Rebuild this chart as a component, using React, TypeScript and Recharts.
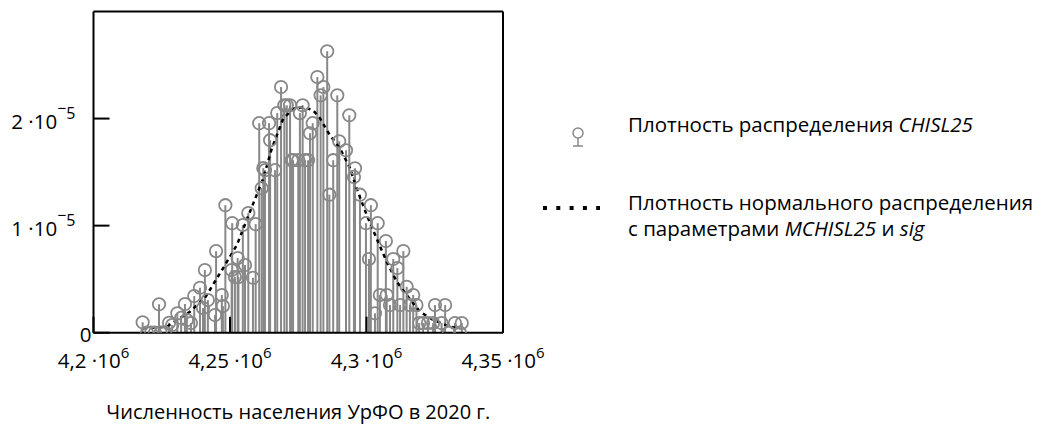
import React from 'react';
import { ComposedChart, Scatter, Line, XAxis, YAxis, ErrorBar } from 'recharts';

// Sample density points (population, density)
const populationPoints = [
  4218000, 4219600, 4221100, 4222500, 4224000, 4224600, 4226200, 4227700, 4228800, 4230700,
  4232100, 4233500, 4234200, 4235700, 4236900, 4239000, 4240100, 4240800, 4241900, 4244500,
  4244900, 4247000, 4247400, 4248300, 4250600, 4250800, 4251800, 4252800, 4253100, 4254700,
  4255500, 4256700, 4258400, 4259400, 4260700, 4261600, 4262200, 4262800, 4264300, 4264700,
  4266500, 4267300, 4268700, 4269900, 4270800, 4272000, 4272600, 4273100, 4275000, 4275600,
  4276600, 4277500, 4278600, 4279300, 4280300, 4282000, 4283200, 4284200, 4285600, 4286400,
  4287800, 4289300, 4290000, 4292500, 4293700, 4295400, 4295800, 4297600, 4299800, 4300900,
  4301600, 4303100, 4304100, 4304900, 4307100, 4307400, 4308600, 4309800, 4311300, 4312300,
  4313500, 4314700, 4315900, 4317100, 4318300, 4319300, 4320700, 4322500, 4324400, 4325100,
  4327500, 4328800, 4330200, 4332400, 4334200, 4334900,
];
const densityValues = [
  0.097e-5, 0, 0, 0, 0.265e-5, 0, 0, 0.093e-5, 0.072e-5, 0.181e-5,
  0.138e-5, 0.268e-5, 0.118e-5, 0.09e-5, 0.342e-5, 0.42e-5, 0.23e-5, 0.585e-5, 0.305e-5, 0.165e-5,
  0.762e-5, 0.352e-5, 0.249e-5, 1.191e-5, 0.585e-5, 1.023e-5, 0.52e-5, 0.697e-5, 0.52e-5, 1.005e-5,
  0.632e-5, 1.117e-5, 0.513e-5, 1.014e-5, 1.957e-5, 1.35e-5, 1.537e-5, 1.518e-5, 1.957e-5, 1.798e-5,
  1.518e-5, 2.051e-5, 2.295e-5, 2.124e-5, 2.124e-5, 2.124e-5, 1.611e-5, 1.611e-5, 1.611e-5, 2.051e-5,
  2.124e-5, 1.611e-5, 1.611e-5, 1.863e-5, 1.957e-5, 2.388e-5, 2.217e-5, 2.295e-5, 2.628e-5, 1.289e-5,
  1.611e-5, 2.217e-5, 1.788e-5, 1.704e-5, 2.031e-5, 1.455e-5, 1.536e-5, 1.289e-5, 1.023e-5, 0.688e-5,
  1.191e-5, 0.181e-5, 1.023e-5, 0.352e-5, 0.856e-5, 0.352e-5, 0.258e-5, 0.688e-5, 0.604e-5, 0.258e-5,
  0.762e-5, 0.429e-5, 0.258e-5, 0.352e-5, 0.258e-5, 0.09e-5, 0.09e-5, 0.09e-5, 0.09e-5, 0.258e-5,
  0.09e-5, 0.258e-5, 0, 0.09e-5, 0, 0.09e-5,
];

// Normal density curve (population, density)
const normalX = [
  4218200, 4226800, 4235300, 4240800, 4247500, 4252500, 4257300, 4262200, 4265300, 4269500,
  4273200, 4276900, 4280500, 4283000, 4286600, 4290300, 4294000, 4296400, 4300100, 4303700,
  4307400, 4311100, 4314700, 4319600, 4324500, 4330600, 4334200,
];
const normalY = [
  0.041e-5, 0.056e-5, 0.196e-5, 0.324e-5, 0.604e-5, 0.818e-5, 1.129e-5, 1.443e-5, 1.72e-5, 2.0e-5,
  2.093e-5, 2.108e-5, 2.077e-5, 2.0e-5, 1.844e-5, 1.72e-5, 1.534e-5, 1.347e-5, 1.098e-5, 0.881e-5,
  0.662e-5, 0.476e-5, 0.352e-5, 0.196e-5, 0.118e-5, 0.056e-5, 0.041e-5,
];

const xTicks = [4.2e6, 4.25e6, 4.3e6, 4.35e6];
const xTickMantissas = ['4,2', '4,25', '4,3', '4,35'];
const xTickExponent = '6';
const yTicks = [0, 1e-5, 2e-5];
const yTickMantissas = ['0', '1', '2'];
const yTickExponentSign = '−';
const yTickExponentDigit = '5';

const xTitle = 'Численность населения УрФО в 2020 г.';
const legendLabel1 = 'Плотность распределения ';
const legendItalic1 = 'CHISL25';
const legendLabel2 = 'Плотность нормального распределения';
const legendLabel3a = 'с параметрами ';
const legendItalic3a = 'MCHISL25';
const legendLabel3b = ' и ';
const legendItalic3b = 'sig';

const FONT = '"Open Sans", sans-serif';
const GRAY = '#888888';

const stemData = populationPoints.map((x, i) => ({ x, y: densityValues[i], stem: [densityValues[i], 0] }));
const normalData = normalX.map((x, i) => ({ x, y: normalY[i] }));

const XTick = (props: any) => {
  const { x, y, payload } = props;
  const idx = xTicks.indexOf(payload.value);
  const mant = idx >= 0 ? xTickMantissas[idx] : String(payload.value);
  return (
    <text x={x} y={y + 35.5} textAnchor="middle" fontFamily={FONT} fontSize={20.5} fill="#000">
      <tspan>{mant} ·10</tspan>
      <tspan dy={-10} fontSize={15}>{xTickExponent}</tspan>
    </text>
  );
};

const YTick = (props: any) => {
  const { x, y, payload } = props;
  const idx = yTicks.indexOf(payload.value);
  const mant = idx >= 0 ? yTickMantissas[idx] : String(payload.value);
  if (payload.value === 0) {
    return (
      <text x={x} y={y + 9} textAnchor="end" fontFamily={FONT} fontSize={20.5} fill="#000">
        {mant}
      </text>
    );
  }
  return (
    <text x={x - 16} y={y + 10.5} textAnchor="end" fontFamily={FONT} fontSize={20.5} fill="#000">
      <tspan>{mant} ·10</tspan>
      <tspan dy={-15} fontSize={16}>{yTickExponentSign}</tspan>
      <tspan dy={5} fontSize={16}>{yTickExponentDigit}</tspan>
    </text>
  );
};

const StemCircle = (props: any) => {
  const { cx, cy } = props;
  if (cx == null || cy == null) return null;
  return <circle cx={cx} cy={cy} r={6.2} fill="none" stroke={GRAY} strokeWidth={1.8} />;
};

const axisStroke = { stroke: '#000', strokeWidth: 2 };

export default function App() {
  return (
    <div style={{ position: 'relative', width: 1031, height: 417 }}>
      <ComposedChart width={1031} height={417} margin={{ top: 2.5, right: 535, bottom: 6, left: 5.5 }}>
        <XAxis
          xAxisId="b"
          dataKey="x"
          type="number"
          domain={[4.2e6, 4.35e6]}
          ticks={xTicks}
          allowDataOverflow
          interval={0}
          height={86.3}
          tickSize={-16}
          tickMargin={16}
          tick={<XTick />}
          axisLine={axisStroke}
          tickLine={axisStroke}
          label={{ value: xTitle, position: 'insideBottom', offset: 0, fill: '#000', fontSize: 20, fontFamily: FONT }}
        />
        <XAxis
          xAxisId="t"
          orientation="top"
          type="number"
          domain={[4.2e6, 4.35e6]}
          ticks={xTicks}
          allowDataOverflow
          interval={0}
          height={1}
          tickSize={-16}
          tickMargin={0}
          tick={false}
          axisLine={axisStroke}
          tickLine={axisStroke}
        />
        <YAxis
          yAxisId="l"
          dataKey="y"
          type="number"
          domain={[0, 3e-5]}
          ticks={yTicks}
          allowDataOverflow
          interval={0}
          width={80}
          tickSize={-16}
          tickMargin={18}
          tick={<YTick />}
          axisLine={axisStroke}
          tickLine={axisStroke}
        />
        <YAxis
          yAxisId="r"
          orientation="right"
          type="number"
          domain={[0, 3e-5]}
          ticks={[1e-5, 2e-5]}
          allowDataOverflow
          interval={0}
          width={1}
          tickSize={-16}
          tickMargin={0}
          tick={false}
          axisLine={axisStroke}
          tickLine={axisStroke}
        />
        <Scatter
          xAxisId="b"
          yAxisId="l"
          data={stemData}
          dataKey="y"
          shape={<StemCircle />}
          isAnimationActive={false}
        >
          <ErrorBar dataKey="stem" direction="y" width={0} stroke={GRAY} strokeWidth={2} isAnimationActive={false} />
        </Scatter>
        <Line
          xAxisId="b"
          yAxisId="l"
          data={normalData}
          dataKey="y"
          type="linear"
          stroke="#000"
          strokeWidth={2.5}
          strokeDasharray="4 4"
          dot={false}
          activeDot={false}
          isAnimationActive={false}
        />
      </ComposedChart>
      <svg
        width={511}
        height={170}
        style={{ position: 'absolute', left: 520, top: 90 }}
        fontFamily={FONT}
        fontSize={20.5}
      >
        <circle cx={50} cy={35} r={5} fill="none" stroke={GRAY} strokeWidth={1.5} />
        <line x1={50} y1={40} x2={50} y2={48} stroke={GRAY} strokeWidth={1.5} />
        <line x1={45} y1={48} x2={55} y2={48} stroke={GRAY} strokeWidth={1.5} />
        <text x={100} y={34} fill="#000">
          <tspan>{legendLabel1}</tspan>
          <tspan fontStyle="italic">{legendItalic1}</tspan>
        </text>
        <line x1={15} y1={110} x2={72} y2={110} stroke="#000" strokeWidth={4} strokeDasharray="4 9.3" />
        <text x={100} y={112} fill="#000">{legendLabel2}</text>
        <text x={100} y={138} fill="#000">
          <tspan>{legendLabel3a}</tspan>
          <tspan fontStyle="italic">{legendItalic3a}</tspan>
          <tspan>{legendLabel3b}</tspan>
          <tspan fontStyle="italic">{legendItalic3b}</tspan>
        </text>
      </svg>
    </div>
  );
}
